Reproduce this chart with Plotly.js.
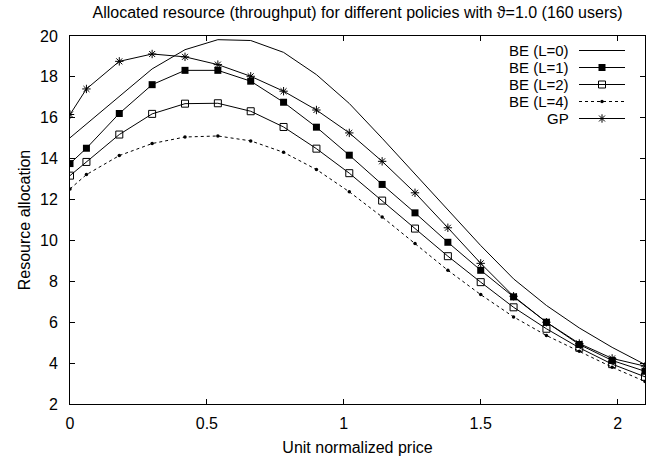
<!DOCTYPE html>
<html>
<head>
<meta charset="utf-8">
<script src="https://cdn.plot.ly/plotly-3.0.1.min.js"></script>
<style>html,body{margin:0;padding:0;background:#fff;}#chart{width:657px;height:460px;}</style>
</head>
<body>
<div id="chart"></div>
<script>
// ---- data ----
const price = [0, 0.06, 0.18, 0.30, 0.42, 0.54, 0.66, 0.78, 0.90, 1.02, 1.14, 1.26, 1.38, 1.50, 1.62, 1.74, 1.86, 1.98, 2.10];
const beL0 = [15.02, 15.70, 17.05, 18.39, 19.33, 19.82, 19.78, 19.20, 18.11, 16.70, 15.00, 13.25, 11.55, 9.75, 8.12, 6.82, 5.72, 4.77, 3.93];
const beL1 = [13.76, 14.51, 16.21, 17.62, 18.32, 18.32, 17.79, 16.76, 15.54, 14.17, 12.74, 11.35, 9.91, 8.54, 7.24, 6.00, 4.91, 4.13, 3.60];
const beL2 = [13.17, 13.84, 15.18, 16.19, 16.69, 16.71, 16.32, 15.55, 14.49, 13.29, 11.95, 10.58, 9.23, 7.96, 6.73, 5.68, 4.75, 3.95, 3.33];
const beL4 = [12.52, 13.22, 14.15, 14.74, 15.06, 15.11, 14.87, 14.31, 13.47, 12.38, 11.15, 9.85, 8.54, 7.35, 6.26, 5.35, 4.58, 3.80, 3.10];
const gp   = [16.16, 17.41, 18.76, 19.12, 18.98, 18.60, 18.03, 17.30, 16.38, 15.26, 13.87, 12.33, 10.62, 8.88, 7.27, 6.00, 4.96, 4.23, 3.85];
const seriesNames = ["BE (L=0)", "BE (L=1)", "BE (L=2)", "BE (L=4)", "GP"];
const xTickVals = [0, 0.5, 1, 1.5, 2];
const xTickText = ["0", "0.5", "1", "1.5", "2"];
const yTickVals = [2, 4, 6, 8, 10, 12, 14, 16, 18, 20];

// ---- styles ----
const FONT = '"Liberation Sans", Arial, Helvetica, sans-serif';
const styles = [
  {dash: 'solid', marker: null},
  {dash: 'solid', marker: {symbol: 'square', size: 7, color: '#000'}},
  {dash: 'solid', marker: {symbol: 'square-open', size: 7, color: '#000', line: {width: 1, color: '#000'}}},
  {dash: 'dot',   marker: {symbol: 'circle', size: 3.5, color: '#000'}},
  {dash: 'solid', marker: {symbol: 'asterisk-open', size: 7, color: '#000', line: {width: 1, color: '#000'}}}
];
const ys = [beL0, beL1, beL2, beL4, gp];

const traces = ys.map((y, i) => {
  const t = {
    type: 'scatter',
    x: price, y: y,
    name: seriesNames[i],
    mode: styles[i].marker ? 'lines+markers' : 'lines',
    line: {color: '#000', width: 1, dash: styles[i].dash},
    showlegend: false,
    hoverinfo: 'skip'
  };
  if (styles[i].marker) t.marker = styles[i].marker;
  return t;
});

// ---- custom gnuplot-style key (text left, sample right) ----
const W = 657, H = 460, mL = 70, mR = 12, mT = 36, mB = 56;
const pw = W - mL - mR, ph = H - mT - mB;
const px2x = p => (p - mL) / pw;
const px2y = p => (H - mB - p) / ph;
const keyRowY = [50.5, 67.5, 84.5, 101.5, 118.5];
const keyTextRight = 570, keyLineL = 579, keyLineR = 625, keyMarkX = 602;

const annotations = [];
const shapes = [];
seriesNames.forEach((n, i) => {
  annotations.push({
    xref: 'paper', yref: 'paper', x: px2x(keyTextRight), y: px2y(keyRowY[i]),
    xanchor: 'right', yanchor: 'middle', text: n, showarrow: false,
    borderpad: 0, valign: 'middle',
    font: {family: FONT, size: 15, color: '#000'}
  });
  shapes.push({
    type: 'line', xref: 'paper', yref: 'paper',
    x0: px2x(keyLineL), x1: px2x(keyLineR), y0: px2y(keyRowY[i]), y1: px2y(keyRowY[i]),
    line: {color: '#000', width: 1, dash: styles[i].dash}
  });
  if (styles[i].marker) {
    traces.push({
      type: 'scatter', xaxis: 'x2', yaxis: 'y2',
      x: [px2x(keyMarkX)], y: [px2y(keyRowY[i])],
      mode: 'markers', marker: styles[i].marker,
      showlegend: false, hoverinfo: 'skip', cliponaxis: false
    });
  }
});

const axisCommon = {
  showline: true, linecolor: '#000', linewidth: 1, mirror: 'ticks',
  ticks: 'inside', ticklen: 5, tickwidth: 1, tickcolor: '#000',
  showgrid: false, zeroline: false,
  tickfont: {family: FONT, size: 16, color: '#000'}
};

const layout = {
  width: W, height: H,
  margin: {l: mL, r: mR, t: mT, b: mB, pad: 0},
  paper_bgcolor: '#fff', plot_bgcolor: '#fff',
  showlegend: false,
  font: {family: FONT, color: '#000'},
  title: {
    text: 'Allocated resource (throughput) for different policies with ϑ=1.0 (160 users)',
    font: {family: FONT, size: 16, color: '#000'},
    x: 0.5, xref: 'paper', xanchor: 'center',
    y: 1 - 12 / H, yref: 'container', yanchor: 'middle'
  },
  xaxis: Object.assign({}, axisCommon, {
    range: [0, 2.1], tickvals: xTickVals, ticktext: xTickText,
    ticklabelstandoff: 5,
    title: {text: 'Unit normalized price', font: {family: FONT, size: 16, color: '#000'}, standoff: 10}
  }),
  yaxis: Object.assign({}, axisCommon, {
    range: [2, 20], tickvals: yTickVals,
    ticklabelstandoff: 8,
    title: {text: 'Resource allocation', font: {family: FONT, size: 16, color: '#000'}, standoff: 5}
  }),
  xaxis2: {overlaying: 'x', range: [0, 1], visible: false, fixedrange: true},
  yaxis2: {overlaying: 'y', range: [0, 1], visible: false, fixedrange: true},
  annotations: annotations,
  shapes: shapes
};

Plotly.newPlot('chart', traces, layout, {staticPlot: true, displayModeBar: false});
</script>
</body>
</html>
